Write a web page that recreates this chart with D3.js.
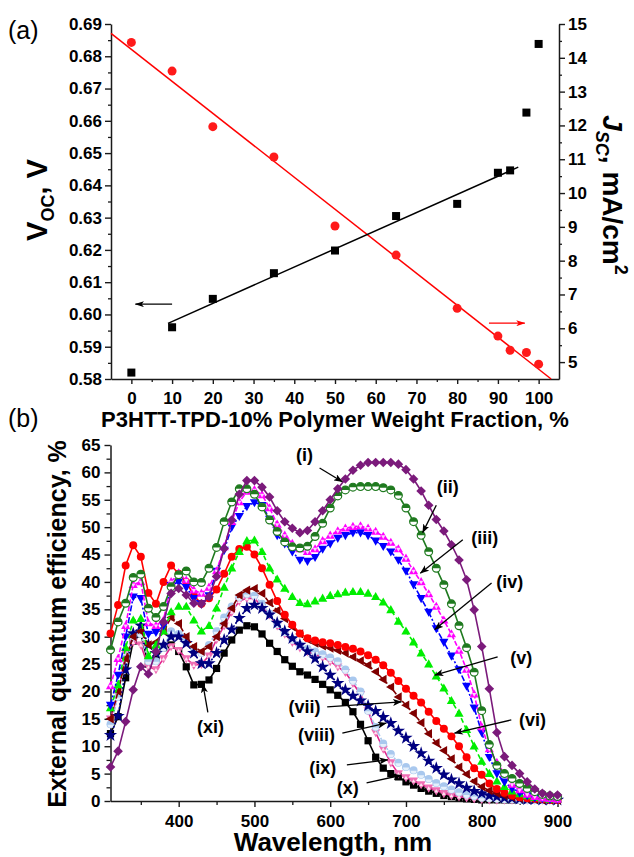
<!DOCTYPE html>
<html><head><meta charset="utf-8">
<script src="https://cdn.jsdelivr.net/npm/d3@7/dist/d3.min.js"></script>
<style>
html,body{margin:0;padding:0;background:#fff;}
svg{display:block;}
text{font-family:"Liberation Sans",Arial,Helvetica,sans-serif;}
</style></head><body>
<svg id="chart" width="634" height="857"></svg>
<script>
// ---------------- Panel (a) data ----------------
const fraction = [0, 10, 20, 35, 50, 65, 80, 90, 93, 97, 100];
const voc = [0.6843, 0.6754, 0.6582, 0.6488, 0.6274, 0.6184, 0.6019, 0.5933, 0.5889, 0.5882, 0.5846];
const jsc = [4.69, 6.03, 6.87, 7.63, 8.30, 9.32, 9.68, 10.60, 10.67, 12.38, 14.41];
const fractionTicks = [0, 10, 20, 30, 40, 50, 60, 70, 80, 90, 100];
const vocTicks = [0.58, 0.59, 0.60, 0.61, 0.62, 0.63, 0.64, 0.65, 0.66, 0.67, 0.68, 0.69];
const jscTicks = [5, 6, 7, 8, 9, 10, 11, 12, 13, 14, 15];

// ---------------- Panel (b) data ----------------
const wavelength = [310,320,330,340,350,360,370,380,390,400,
  410,420,430,440,450,460,470,480,490,500,
  510,520,530,540,550,560,570,580,590,600,
  610,620,630,640,650,660,670,680,690,700,
  710,720,730,740,750,760,770,780,790,800,
  810,820,830,840,850,860,870,880,890,900];
const eqeI = [6.2,9.1,14.5,20.3,24.5,23.2,27.3,32.7,37.9,38.8,
  37.6,36.1,36.0,37.3,41.0,46.1,51.3,56.0,58.5,58.5,
  57.3,55.5,53.0,51.0,49.8,49.0,49.4,51.0,53.0,55.0,
  57.0,58.8,60.4,61.3,61.8,61.8,61.8,61.8,61.5,60.5,
  58.8,56.6,54.0,51.4,49.3,46.8,44.0,40.4,34.9,28.2,
  20.5,12.5,8.1,6.5,5.0,3.5,2.2,1.4,1.1,1.1];
const eqeII = [27.6,32.7,36.1,40.8,41.4,35.2,33.5,35.5,39.1,41.3,
  42.0,40.0,39.9,42.5,46.3,51.0,54.6,57.0,57.0,56.0,
  53.7,51.3,49.2,47.3,46.4,46.2,46.5,48.3,50.7,53.5,
  55.7,56.8,57.3,57.4,57.4,57.4,57.2,56.8,55.8,53.5,
  51.0,48.5,45.5,42.5,39.5,36.0,32.0,28.0,23.5,16.5,
  10.3,6.5,5.0,4.1,3.2,2.3,1.7,1.2,0.9,0.8];
const eqeIII = [21.0,26.0,32.0,39.5,40.0,32.5,32.0,33.0,40.0,41.6,
  40.3,38.5,37.9,39.0,42.0,46.4,51.0,54.6,56.5,56.8,
  55.9,53.5,50.5,48.5,47.0,46.0,45.5,46.0,47.5,48.5,
  49.3,49.8,50.1,50.2,49.8,49.2,48.3,47.2,46.0,44.3,
  42.0,40.0,37.8,35.5,33.0,30.5,27.5,24.0,19.5,13.5,
  9.5,7.0,5.0,3.0,2.0,1.2,0.8,0.5,0.4,0.3];
const eqeIV = [17.5,23.0,30.0,37.3,37.0,30.5,30.8,32.0,39.4,40.0,
  39.0,37.0,36.0,37.5,42.0,45.8,50.0,52.0,53.8,54.5,
  54.0,51.5,48.5,47.0,45.5,44.0,43.8,44.5,46.0,47.0,
  48.0,48.5,49.0,49.0,48.5,47.5,46.5,45.5,44.0,42.0,
  39.5,37.0,34.5,31.5,29.0,26.5,24.0,21.0,17.0,12.5,
  8.0,5.0,3.5,2.3,1.5,1.0,0.6,0.4,0.3,0.3];
const eqeV = [17.0,21.2,28.0,33.0,33.3,26.5,28.5,31.0,34.5,35.5,
  35.5,33.0,31.0,32.0,35.2,39.0,42.5,45.5,47.5,47.6,
  45.5,42.5,40.5,38.8,37.3,36.2,36.0,36.5,37.0,37.5,
  37.8,38.1,38.2,38.2,37.9,37.3,36.3,34.9,32.8,31.0,
  29.0,27.0,25.0,22.8,20.6,18.3,16.0,13.0,10.0,7.2,
  5.0,3.6,2.6,1.8,1.3,0.9,0.6,0.4,0.3,0.3];
const eqeVI = [30.6,35.8,43.0,46.7,44.6,38.0,36.0,40.0,43.0,41.5,
  40.0,37.5,36.0,37.0,38.6,41.5,44.6,46.0,46.4,45.0,
  42.5,39.5,36.5,34.0,32.2,30.6,29.7,29.3,29.0,28.8,
  28.5,28.1,27.8,27.3,26.6,25.8,24.8,23.4,21.9,20.5,
  19.2,18.0,16.3,14.6,13.2,11.8,10.0,8.0,6.0,4.8,
  3.2,2.2,1.5,1.0,0.7,0.5,0.4,0.3,0.2,0.2];
const eqeVII = [15.0,20.0,26.0,30.0,31.0,28.5,29.0,31.0,33.5,32.4,
  30.0,28.2,27.3,28.2,30.0,32.4,35.2,37.6,38.5,38.8,
  37.9,36.2,34.8,33.3,31.8,30.5,29.5,28.8,28.3,27.9,
  27.5,27.0,26.3,25.6,24.8,23.6,22.2,20.8,19.0,17.5,
  16.0,14.3,12.3,10.6,9.2,7.7,6.2,4.9,3.6,2.6,
  1.9,1.4,1.0,0.7,0.5,0.4,0.3,0.2,0.2,0.2];
const eqeVIII = [12.0,15.5,24.0,30.6,32.0,28.5,27.0,28.5,30.0,30.0,
  28.8,27.0,25.1,25.1,27.0,29.4,31.3,33.4,35.2,35.8,
  35.2,34.0,32.5,31.0,29.7,28.5,27.3,26.0,24.5,23.0,
  21.5,20.3,19.2,18.3,17.4,16.4,15.3,14.2,12.8,11.5,
  10.0,8.7,7.3,6.0,4.8,3.9,3.2,2.4,1.8,1.4,
  1.0,0.8,0.6,0.5,0.4,0.3,0.3,0.2,0.2,0.2];
const eqeIX = [14.0,19.0,26.0,30.0,30.5,25.5,25.5,28.0,31.0,30.5,
  29.0,27.5,27.0,28.5,31.0,33.5,35.5,37.2,37.8,37.5,
  36.0,34.2,32.3,30.8,29.5,28.5,27.8,27.3,26.8,26.2,
  25.5,24.0,22.0,20.0,16.5,13.5,10.5,8.6,7.0,6.2,
  5.6,4.8,4.0,3.3,2.7,2.1,1.6,1.2,0.9,0.6,
  0.5,0.4,0.3,0.3,0.2,0.2,0.2,0.2,0.2,0.2];
const eqeX = [15.0,19.5,27.0,29.0,28.5,24.5,24.0,26.0,28.2,27.5,
  26.0,24.8,25.0,26.5,29.5,32.0,34.5,36.5,37.0,37.0,
  35.5,34.0,32.0,30.5,29.0,28.0,27.3,26.8,26.2,25.5,
  24.5,23.5,21.5,19.5,16.5,12.5,9.5,7.0,5.0,4.3,
  3.7,3.0,2.4,1.9,1.4,1.0,0.8,0.6,0.4,0.3,
  0.2,0.2,0.2,0.2,0.2,0.2,0.2,0.2,0.2,0.2];
const eqeXI = [12.3,15.4,22.5,29.2,30.5,25.0,26.0,28.0,28.5,27.3,
  24.5,21.2,21.3,22.1,24.2,27.0,29.4,31.2,32.0,31.8,
  30.5,28.8,27.3,25.8,24.6,23.6,23.0,22.2,21.3,20.3,
  19.3,18.0,16.3,14.0,11.0,8.0,6.0,5.0,4.4,3.5,
  2.9,2.3,1.8,1.4,1.0,0.8,0.6,0.4,0.3,0.2,
  0.2,0.2,0.2,0.2,0.2,0.2,0.2,0.2,0.2,0.2];
const wavelengthTicks = [400, 500, 600, 700, 800, 900];
const eqeTicks = [0, 5, 10, 15, 20, 25, 30, 35, 40, 45, 50, 55, 60, 65];
const curveLabels = ["(i)","(ii)","(iii)","(iv)","(v)","(vi)","(vii)","(viii)","(ix)","(x)","(xi)"];
// label anchor and arrow (data units: nm, %)
const labelNm   = [566, 755, 804, 837, 852, 867, 566, 582, 590, 623, 442];
const labelEqe  = [63.2, 57.3, 48.0, 40.0, 26.1, 14.8, 17.2, 12.1, 6.0, 2.4, 13.5];
const arrowFromNm  = [586, 740, 775, 813, 821, 839, 596, 616, 622, 648, 438.5];
const arrowFromEqe = [60.8, 54.0, 47.7, 39.8, 26.3, 14.8, 17.2, 12.4, 6.6, 3.3, 16.2];
const arrowToNm    = [616, 722, 719, 738, 738, 764, 694, 674, 676, 694, 432];
const arrowToEqe   = [58.3, 49.0, 41.6, 31.3, 23.0, 12.4, 18.1, 14.2, 7.5, 4.7, 21.3];

// ---------------- setup ----------------
const svg = d3.select("#chart");
const FONT = '"Liberation Sans",Arial,Helvetica,sans-serif';
const AX = "#1a1a1a";
const defs = svg.append("defs");
function arrowMarker(id, color, w, h) {
  defs.append("marker").attr("id", id).attr("markerUnits", "userSpaceOnUse")
    .attr("markerWidth", w).attr("markerHeight", h).attr("refX", w - 0.5).attr("refY", h / 2)
    .attr("orient", "auto")
    .append("path").attr("d", `M0,0 L${w},${h/2} L0,${h} L${w*0.25},${h/2} Z`).attr("fill", color);
}
arrowMarker("arK", "#000", 9, 6);
arrowMarker("arR", "#ff0000", 9, 6);
arrowMarker("arB", "#000", 9, 7);

function styleAxis(g, size) {
  g.attr("font-family", FONT).attr("font-size", size);
  g.select(".domain").attr("stroke", AX).attr("stroke-width", 1.5);
  g.selectAll(".tick line").attr("stroke", AX).attr("stroke-width", 1.4);
  g.selectAll(".tick text").attr("font-weight", "bold").attr("fill", "#000");
}
function minor(g) {
  g.select(".domain").remove();
  g.selectAll(".tick line").attr("stroke", AX).attr("stroke-width", 1.3);
}
function rich(g, x, y, parts, o) {
  let tr = `translate(${x},${y})`;
  if (o.rot) tr += ` rotate(${o.rot})`;
  const t = g.append("text").attr("transform", tr).attr("text-anchor", o.anchor || "middle")
    .attr("font-family", FONT).attr("font-weight", o.weight || "bold").attr("font-size", o.size).attr("fill", "#000");
  if (typeof parts === "string") { t.text(parts); return t; }
  parts.forEach(p => {
    const s = t.append("tspan").text(p.t);
    if (p.size) s.attr("font-size", p.size);
    if (p.dy) s.attr("dy", p.dy);
    if (p.italic) s.attr("font-style", "italic");
  });
  return t;
}

// ---------------- Panel (a) ----------------
const xA = d3.scaleLinear().domain([-5, 105]).range([111, 559]);
const yV = d3.scaleLinear().domain([0.58, 0.69]).range([379, 24]);
const yJ = d3.scaleLinear().domain([4.5, 15]).range([379, 24]);
const gA = svg.append("g");

// axes
gA.append("g").attr("transform", "translate(0,379)")
  .call(d3.axisBottom(xA).tickValues(d3.range(5, 100, 10)).tickSize(3).tickFormat("")).call(minor);
gA.append("g").attr("transform", "translate(111,0)")
  .call(d3.axisLeft(yV).tickValues(d3.range(0.585, 0.69, 0.01)).tickSize(3).tickFormat("")).call(minor);
gA.append("g").attr("transform", "translate(559,0)")
  .call(d3.axisRight(yJ).tickValues(d3.range(5.5, 15, 1)).tickSize(3).tickFormat("")).call(minor);

gA.append("g").attr("transform", "translate(0,379)")
  .call(d3.axisBottom(xA).tickValues(fractionTicks).tickSize(5).tickSizeOuter(0).tickPadding(8).tickFormat(d3.format("d")))
  .call(g => styleAxis(g, 17));
gA.append("g").attr("transform", "translate(111,0)")
  .call(d3.axisLeft(yV).tickValues(vocTicks).tickSize(6).tickSizeOuter(0).tickPadding(3).tickFormat(d3.format(".2f")))
  .call(g => styleAxis(g, 17));
gA.append("g").attr("transform", "translate(559,0)")
  .call(d3.axisRight(yJ).tickValues(jscTicks).tickSize(6).tickSizeOuter(0).tickPadding(3).tickFormat(d3.format("d")))
  .call(g => styleAxis(g, 17));

// linear fits computed from the data
function fit(xs, ys) {
  const mx = d3.mean(xs), my = d3.mean(ys);
  let sxy = 0, sxx = 0;
  xs.forEach((x, i) => { sxy += (x - mx) * (ys[i] - my); sxx += (x - mx) * (x - mx); });
  const b = sxy / sxx; return { a: my - b * mx, b };
}
const fV = fit(fraction, voc);
const vx0 = -5, vx1 = Math.min(105, (0.58 - fV.a) / fV.b);
gA.append("line").attr("x1", xA(vx0)).attr("y1", yV(fV.a + fV.b * vx0))
  .attr("x2", xA(vx1)).attr("y2", yV(fV.a + fV.b * vx1)).attr("stroke", "#ff0000").attr("stroke-width", 1.5);
const jIdx = fraction.map((f, i) => i).filter(i => fraction[i] >= 10 && fraction[i] <= 93);
const fJ = fit(jIdx.map(i => fraction[i]), jIdx.map(i => jsc[i]));
gA.append("line").attr("x1", xA(9)).attr("y1", yJ(fJ.a + fJ.b * 9))
  .attr("x2", xA(95)).attr("y2", yJ(fJ.a + fJ.b * 95)).attr("stroke", "#000").attr("stroke-width", 1.5);

gA.selectAll("circle.voc").data(voc).join("circle")
  .attr("cx", (d, i) => xA(fraction[i])).attr("cy", d => yV(d)).attr("r", 4.5).attr("fill", "#ff1a1a");
gA.selectAll("rect.jsc").data(jsc).join("rect")
  .attr("x", (d, i) => xA(fraction[i]) - 4).attr("y", d => yJ(d) - 4).attr("width", 8).attr("height", 8).attr("fill", "#000");

// direction arrows
gA.append("line").attr("x1", xA(10)).attr("y1", yV(0.6032)).attr("x2", xA(1)).attr("y2", yV(0.6032))
  .attr("stroke", "#000").attr("stroke-width", 1.2).attr("marker-end", "url(#arK)");
gA.append("line").attr("x1", xA(87.8)).attr("y1", yJ(6.15)).attr("x2", xA(96.6)).attr("y2", yJ(6.15))
  .attr("stroke", "#ff0000").attr("stroke-width", 1.2).attr("marker-end", "url(#arR)");

// titles
rich(svg, 8, 39, "(a)", { size: 25, weight: "normal", anchor: "start" });
rich(svg, 47, 200, [{ t: "V" }, { t: "OC", size: 18, dy: 7 }, { t: ", V", dy: -7 }], { size: 29, rot: -90 });
rich(svg, 603, 195, [{ t: "J", italic: true }, { t: "SC", size: 18, dy: 7, italic: true }, { t: ", mA/cm", dy: -7 }, { t: "2", size: 18, dy: -12 }], { size: 28, rot: 90 });
rich(svg, 335, 427, "P3HTT-TPD-10% Polymer Weight Fraction, %", { size: 22 });

// ---------------- Panel (b) ----------------
const xB = d3.scaleLinear().domain([310, 900]).range([110.5, 557.5]);
const yB = d3.scaleLinear().domain([0, 65]).range([801, 445]);
const gB = svg.append("g");

gB.append("g").attr("transform", "translate(0,801)")
  .call(d3.axisBottom(xB).tickValues(d3.range(350, 900, 100)).tickSize(4).tickFormat("")).call(minor);
gB.append("g").attr("transform", "translate(110.5,0)")
  .call(d3.axisLeft(yB).tickValues(d3.range(2.5, 65, 5)).tickSize(4).tickFormat("")).call(minor);
gB.append("g").attr("transform", "translate(0,801)")
  .call(d3.axisBottom(xB).tickValues(wavelengthTicks).tickSize(6).tickSizeOuter(0).tickPadding(8).tickFormat(d3.format("d")))
  .call(g => styleAxis(g, 17));
gB.append("g").attr("transform", "translate(110.5,0)")
  .call(d3.axisLeft(yB).tickValues(eqeTicks).tickSize(6).tickSizeOuter(0).tickPadding(4).tickFormat(d3.format("d")))
  .call(g => styleAxis(g, 17));

// marker shapes
const SH = {
  square: "M-3.6,-3.6h7.2v7.2h-7.2z",
  diamond: "M0,-4.8L4.8,0L0,4.8L-4.8,0Z",
  up: "M0,-4.8L4.6,3.3L-4.6,3.3Z",
  down: "M0,4.8L4.6,-3.3L-4.6,-3.3Z",
  left: "M-4.8,0L3.3,-4.6L3.3,4.6Z",
  circle: d3.symbol(d3.symbolCircle, 50)(),
  star: d3.symbol(d3.symbolStar, 55)()
};
const halfTop = "M-3.9,0A3.9,3.9 0 0 1 3.9,0Z";
const series = [
  { v: eqeXI,  color: "#000000", shape: "square", dash: null },
  { v: eqeX,   color: "#e0258c", shape: "down", dash: null, fill: "#f06eb4", inner: "up" },
  { v: eqeIX,  color: "#a9c8ee", shape: "circle", dash: "6,2,2,2", fill: "#a9c8ee", inner: "dot" },
  { v: eqeVIII,color: "#000080", shape: "star", dash: "2,2" },
  { v: eqeVII, color: "#800000", shape: "left", dash: "5,2" },
  { v: eqeVI,  color: "#ff0000", shape: "circle", dash: null },
  { v: eqeV,   color: "#00ee00", shape: "up", dash: "5,3" },
  { v: eqeIV,  color: "#0000ff", shape: "down", dash: "6,2,2,2" },
  { v: eqeIII, color: "#ff00ff", shape: "up", dash: "5,2", inner: "down" },
  { v: eqeII,  color: "#1f7a1f", shape: "half", dash: null },
  { v: eqeI,   color: "#7b1a7b", shape: "diamond", dash: null }
];
const line = d3.line();
series.forEach(s => {
  const pts = s.v.map((d, i) => [xB(wavelength[i]), yB(d)]);
  gB.append("path").attr("d", line(pts)).attr("fill", "none").attr("stroke", s.color)
    .attr("stroke-width", 1.6).attr("stroke-dasharray", s.dash);
  const mg = gB.append("g");
  pts.forEach(p => {
    const m = mg.append("g").attr("transform", `translate(${p[0]},${p[1]})`);
    if (s.shape === "half") {
      m.append("circle").attr("r", 3.9).attr("fill", "#fff").attr("stroke", s.color).attr("stroke-width", 1.2);
      m.append("path").attr("d", halfTop).attr("fill", s.color);
    } else {
      m.append("path").attr("d", SH[s.shape]).attr("fill", s.fill || s.color);
      if (s.inner === "down") m.append("path").attr("d", "M0,2.6L2.2,-1.2L-2.2,-1.2Z").attr("fill", "#fbd3fb");
      if (s.inner === "up") m.append("path").attr("d", "M0,-1.6L2,1.8L-2,1.8Z").attr("fill", "#fde3f0");
      if (s.inner === "dot") m.append("path").attr("d", "M-3,0.5A3,3 0 0 0 3,0.5Z").attr("fill", "#e6f0fb");
    }
  });
});

// curve labels with arrows
curveLabels.forEach((lab, i) => {
  gB.append("line").attr("x1", xB(arrowFromNm[i])).attr("y1", yB(arrowFromEqe[i]))
    .attr("x2", xB(arrowToNm[i])).attr("y2", yB(arrowToEqe[i]))
    .attr("stroke", "#000").attr("stroke-width", 1.3).attr("marker-end", "url(#arB)");
  rich(gB, xB(labelNm[i]), yB(labelEqe[i]) + 6, lab, { size: 18 });
});

rich(svg, 8, 427, "(b)", { size: 25, weight: "normal", anchor: "start" });
rich(svg, 66, 624, "External quantum efficiency, %", { size: 25, rot: -90 });
rich(svg, 333, 851, "Wavelength, nm", { size: 26 });
</script>
</body></html>
